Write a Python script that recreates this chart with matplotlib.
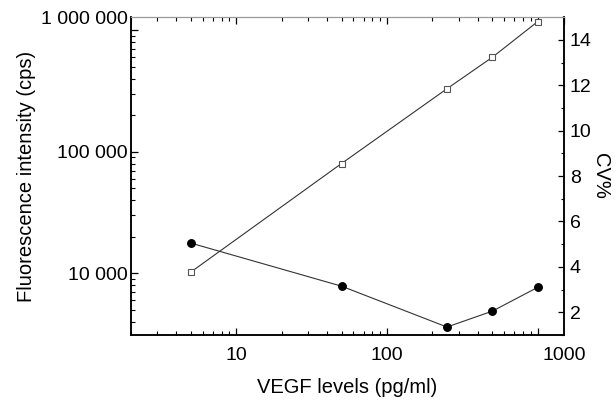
import numpy as np
import matplotlib
matplotlib.use('Agg')
import matplotlib.pyplot as plt
from matplotlib.ticker import LogLocator, NullFormatter, MultipleLocator

plt.rcParams['font.family'] = ['Liberation Sans', 'DejaVu Sans']

# data
vegf = [5, 50, 250, 500, 1000]                       # pg/ml
fluor = [10200, 80000, 330000, 600000, 1180000]      # cps
cv = [5.05, 3.15, 1.35, 2.05, 3.1]                   # CV%

sumbuX = 'VEGF levels (pg/ml)'
sumbuY = 'Fluorescence intensity (cps)'
sumbuY2 = 'CV%'
xLim = (2.0, 1500)
yLim = (3100, 1.28e6)
y2Lim = (1, 15)

fig = plt.figure(figsize=(6.16, 4.11), dpi=100)
ax = fig.add_axes([0.2122, 0.185, 0.9161 - 0.2122, 0.958 - 0.185])
ax2 = ax.twinx()

# fluorescence: open squares, log axis
ax.plot(vegf, fluor, color='#333333', lw=0.8, marker='s', ms=5.0,
        mfc='white', mec='#555555', mew=0.8, zorder=3)
# CV%: filled circles, linear right axis
ax2.plot(vegf, cv, color='#333333', lw=0.8, marker='o', ms=5.4,
         mfc='black', mec='black', zorder=3)

ax.set_xscale('log')
ax.set_yscale('log')
ax.set_xlim(*xLim)
ax.set_ylim(*yLim)
ax2.set_ylim(*y2Lim)

# labels of 1000 and 1 000 000 sit at the axis ends in the original
ax.set_xticks([10, 100, 1000, xLim[1]], ['10', '100', '', '1000'])
ax.set_yticks([1e4, 1e5, 1e6, yLim[1]], ['10 000', '100 000', '', '1 000 000'])
for t in [ax.xaxis.get_major_ticks()[-1], ax.yaxis.get_major_ticks()[-1]]:
    t.tick1line.set_visible(False)
    t.tick2line.set_visible(False)
ax.xaxis.set_minor_locator(LogLocator(base=10, subs=np.arange(2, 10)))
ax.yaxis.set_minor_locator(LogLocator(base=10, subs=np.arange(2, 10)))
ax.xaxis.set_minor_formatter(NullFormatter())
ax.yaxis.set_minor_formatter(NullFormatter())

ax2.set_yticks(np.arange(2, 15, 2))
ax2.yaxis.set_minor_locator(MultipleLocator(1))

ax.tick_params(axis='both', which='major', direction='in', length=5, width=0.9,
               labelsize=14, top=True, right=False)
ax.tick_params(axis='both', which='minor', direction='in', length=3, width=0.8,
               top=True, right=False)
ax.tick_params(axis='y', which='major', pad=2)
ax.tick_params(axis='x', which='major', pad=9)
ax2.tick_params(axis='y', which='major', direction='in', length=4, width=0.9,
                labelsize=14, pad=4)
ax2.tick_params(axis='y', which='minor', direction='in', length=2.5, width=0.8)

ax.set_xlabel(sumbuX, fontsize=14.5, labelpad=10)
ax.set_ylabel(sumbuY, fontsize=14.5, labelpad=4)
ax2.set_ylabel(sumbuY2, fontsize=14.5, rotation=-90, va='center', ha='center')
ax2.yaxis.set_label_coords(1.083, 0.5)

for a in (ax, ax2):
    for s in ['left', 'bottom', 'right']:
        a.spines[s].set_linewidth(1.1)
        a.spines[s].set_color('black')
    a.spines['top'].set_color('#999999')
    a.spines['top'].set_linewidth(0.8)

plt.savefig('out.png', dpi=100)
plt.close(fig)
